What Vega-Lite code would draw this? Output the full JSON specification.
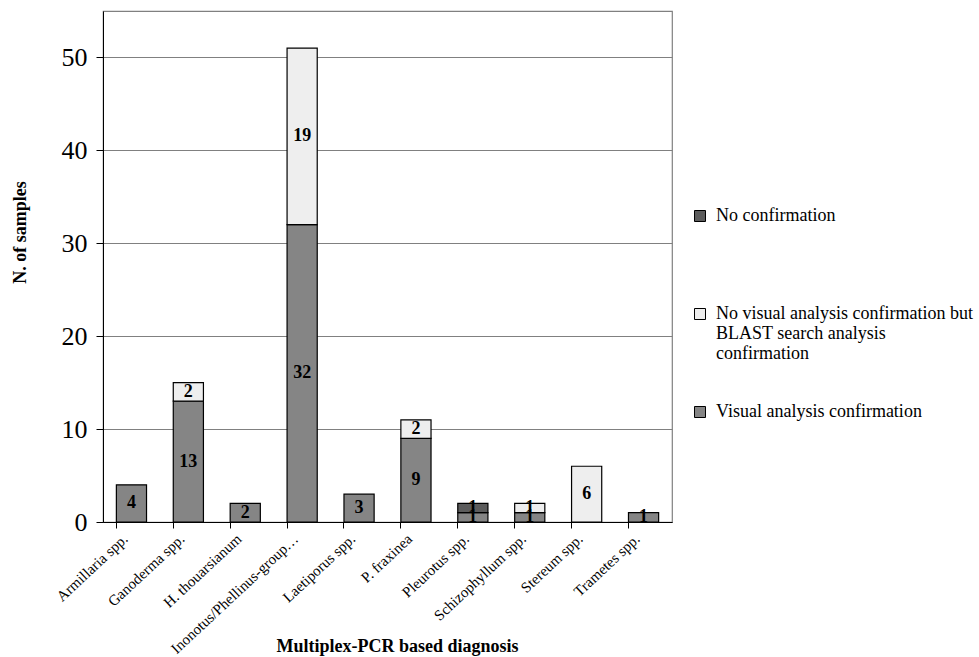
{
  "$schema": "https://vega.github.io/schema/vega-lite/v6.json",
  "autosize": "none",
  "padding": {"left": 103, "top": 11, "right": 307, "bottom": 135},
  "width": 569,
  "height": 511,
  "background": "white",
  "data": {
    "values": [
      {"genus": "Armillaria spp.", "status": "Visual analysis confirmation", "n": 4, "ord": 1},
      {"genus": "Ganoderma spp.", "status": "Visual analysis confirmation", "n": 13, "ord": 1},
      {"genus": "Ganoderma spp.", "status": "No visual analysis confirmation but BLAST search analysis confirmation", "n": 2, "ord": 2},
      {"genus": "H. thouarsianum", "status": "Visual analysis confirmation", "n": 2, "ord": 1},
      {"genus": "Inonotus/Phellinus-group s.l.", "status": "Visual analysis confirmation", "n": 32, "ord": 1},
      {"genus": "Inonotus/Phellinus-group s.l.", "status": "No visual analysis confirmation but BLAST search analysis confirmation", "n": 19, "ord": 2},
      {"genus": "Laetiporus spp.", "status": "Visual analysis confirmation", "n": 3, "ord": 1},
      {"genus": "P. fraxinea", "status": "Visual analysis confirmation", "n": 9, "ord": 1},
      {"genus": "P. fraxinea", "status": "No visual analysis confirmation but BLAST search analysis confirmation", "n": 2, "ord": 2},
      {"genus": "Pleurotus spp.", "status": "Visual analysis confirmation", "n": 1, "ord": 1},
      {"genus": "Pleurotus spp.", "status": "No confirmation", "n": 1, "ord": 3},
      {"genus": "Schizophyllum spp.", "status": "Visual analysis confirmation", "n": 1, "ord": 1},
      {"genus": "Schizophyllum spp.", "status": "No visual analysis confirmation but BLAST search analysis confirmation", "n": 1, "ord": 2},
      {"genus": "Stereum spp.", "status": "No visual analysis confirmation but BLAST search analysis confirmation", "n": 6, "ord": 2},
      {"genus": "Trametes spp.", "status": "Visual analysis confirmation", "n": 1, "ord": 1}
    ]
  },
  "encoding": {
    "x": {
      "field": "genus",
      "type": "nominal",
      "sort": null,
      "title": "Multiplex-PCR based diagnosis",
      "scale": {"paddingInner": 0.47, "paddingOuter": 0.235},
      "axis": {
        "labelAngle": -43,
        "labelFont": "Liberation Serif",
        "labelFontSize": 15,
        "labelColor": "black",
        "labelLimit": 168,
        "labelPadding": 3,
        "labelOffset": -11,
        "bandPosition": 0,
        "domainColor": "black",
        "tickColor": "black",
        "tickSize": 6,
        "titleFont": "Liberation Serif",
        "titleFontSize": 18,
        "titleFontWeight": "bold",
        "titleColor": "black",
        "titleBaseline": "middle",
        "titleY": 124,
        "titleX": 294,
        "titleAnchor": "middle"
      }
    },
    "y": {
      "field": "n",
      "type": "quantitative",
      "stack": "zero",
      "title": "N. of samples",
      "scale": {"domain": [0, 55], "nice": false},
      "axis": {
        "values": [0, 10, 20, 30, 40, 50],
        "labelFont": "Liberation Serif",
        "labelFontSize": 26,
        "labelColor": "black",
        "labelPadding": 9,
        "domainColor": "black",
        "tickColor": "black",
        "tickSize": 7,
        "gridColor": "#808080",
        "gridWidth": 1.2,
        "titleFont": "Liberation Serif",
        "titleFontSize": 18,
        "titleFontWeight": "bold",
        "titleColor": "black",
        "titleBaseline": "middle",
        "titleX": -83,
        "titleY": 221
      }
    },
    "order": {"field": "ord", "type": "quantitative"}
  },
  "layer": [
    {
      "mark": {"type": "bar", "stroke": "black", "strokeWidth": 1.2},
      "encoding": {
        "fill": {
          "field": "status",
          "type": "nominal",
          "title": null,
          "scale": {
            "domain": ["No confirmation", "No visual analysis confirmation but BLAST search analysis confirmation", "Visual analysis confirmation"],
            "range": ["#5c5c5c", "#eeeeee", "#858585"]
          },
          "legend": {
            "orient": "none",
            "legendX": 588,
            "legendY": 196,
            "symbolType": "square",
            "symbolSize": 121,
            "symbolStrokeColor": "black",
            "symbolStrokeWidth": 1,
            "labelFont": "Liberation Serif",
            "labelFontSize": 18,
            "labelLineHeight": 25,
            "labelColor": "black",
            "labelLimit": 400,
            "labelOffset": 7,
            "rowPadding": 40,
            "labelExpr": "datum.label == 'No visual analysis confirmation but BLAST search analysis confirmation' ? ['No visual analysis confirmation but', 'BLAST search analysis', 'confirmation'] : datum.label == 'No confirmation' ? ['No confirmation', ' ', ' '] : datum.label"
          }
        }
      }
    },
    {
      "mark": {
        "type": "text",
        "font": "Liberation Serif",
        "fontSize": 18,
        "fontWeight": "bold",
        "color": "black",
        "baseline": "middle"
      },
      "encoding": {
        "y": {"field": "n", "type": "quantitative", "stack": "zero", "bandPosition": 0.5},
        "text": {"field": "n", "type": "quantitative"}
      }
    }
  ],
  "config": {
    "view": {"stroke": "#808080", "strokeWidth": 1.2}
  }
}
